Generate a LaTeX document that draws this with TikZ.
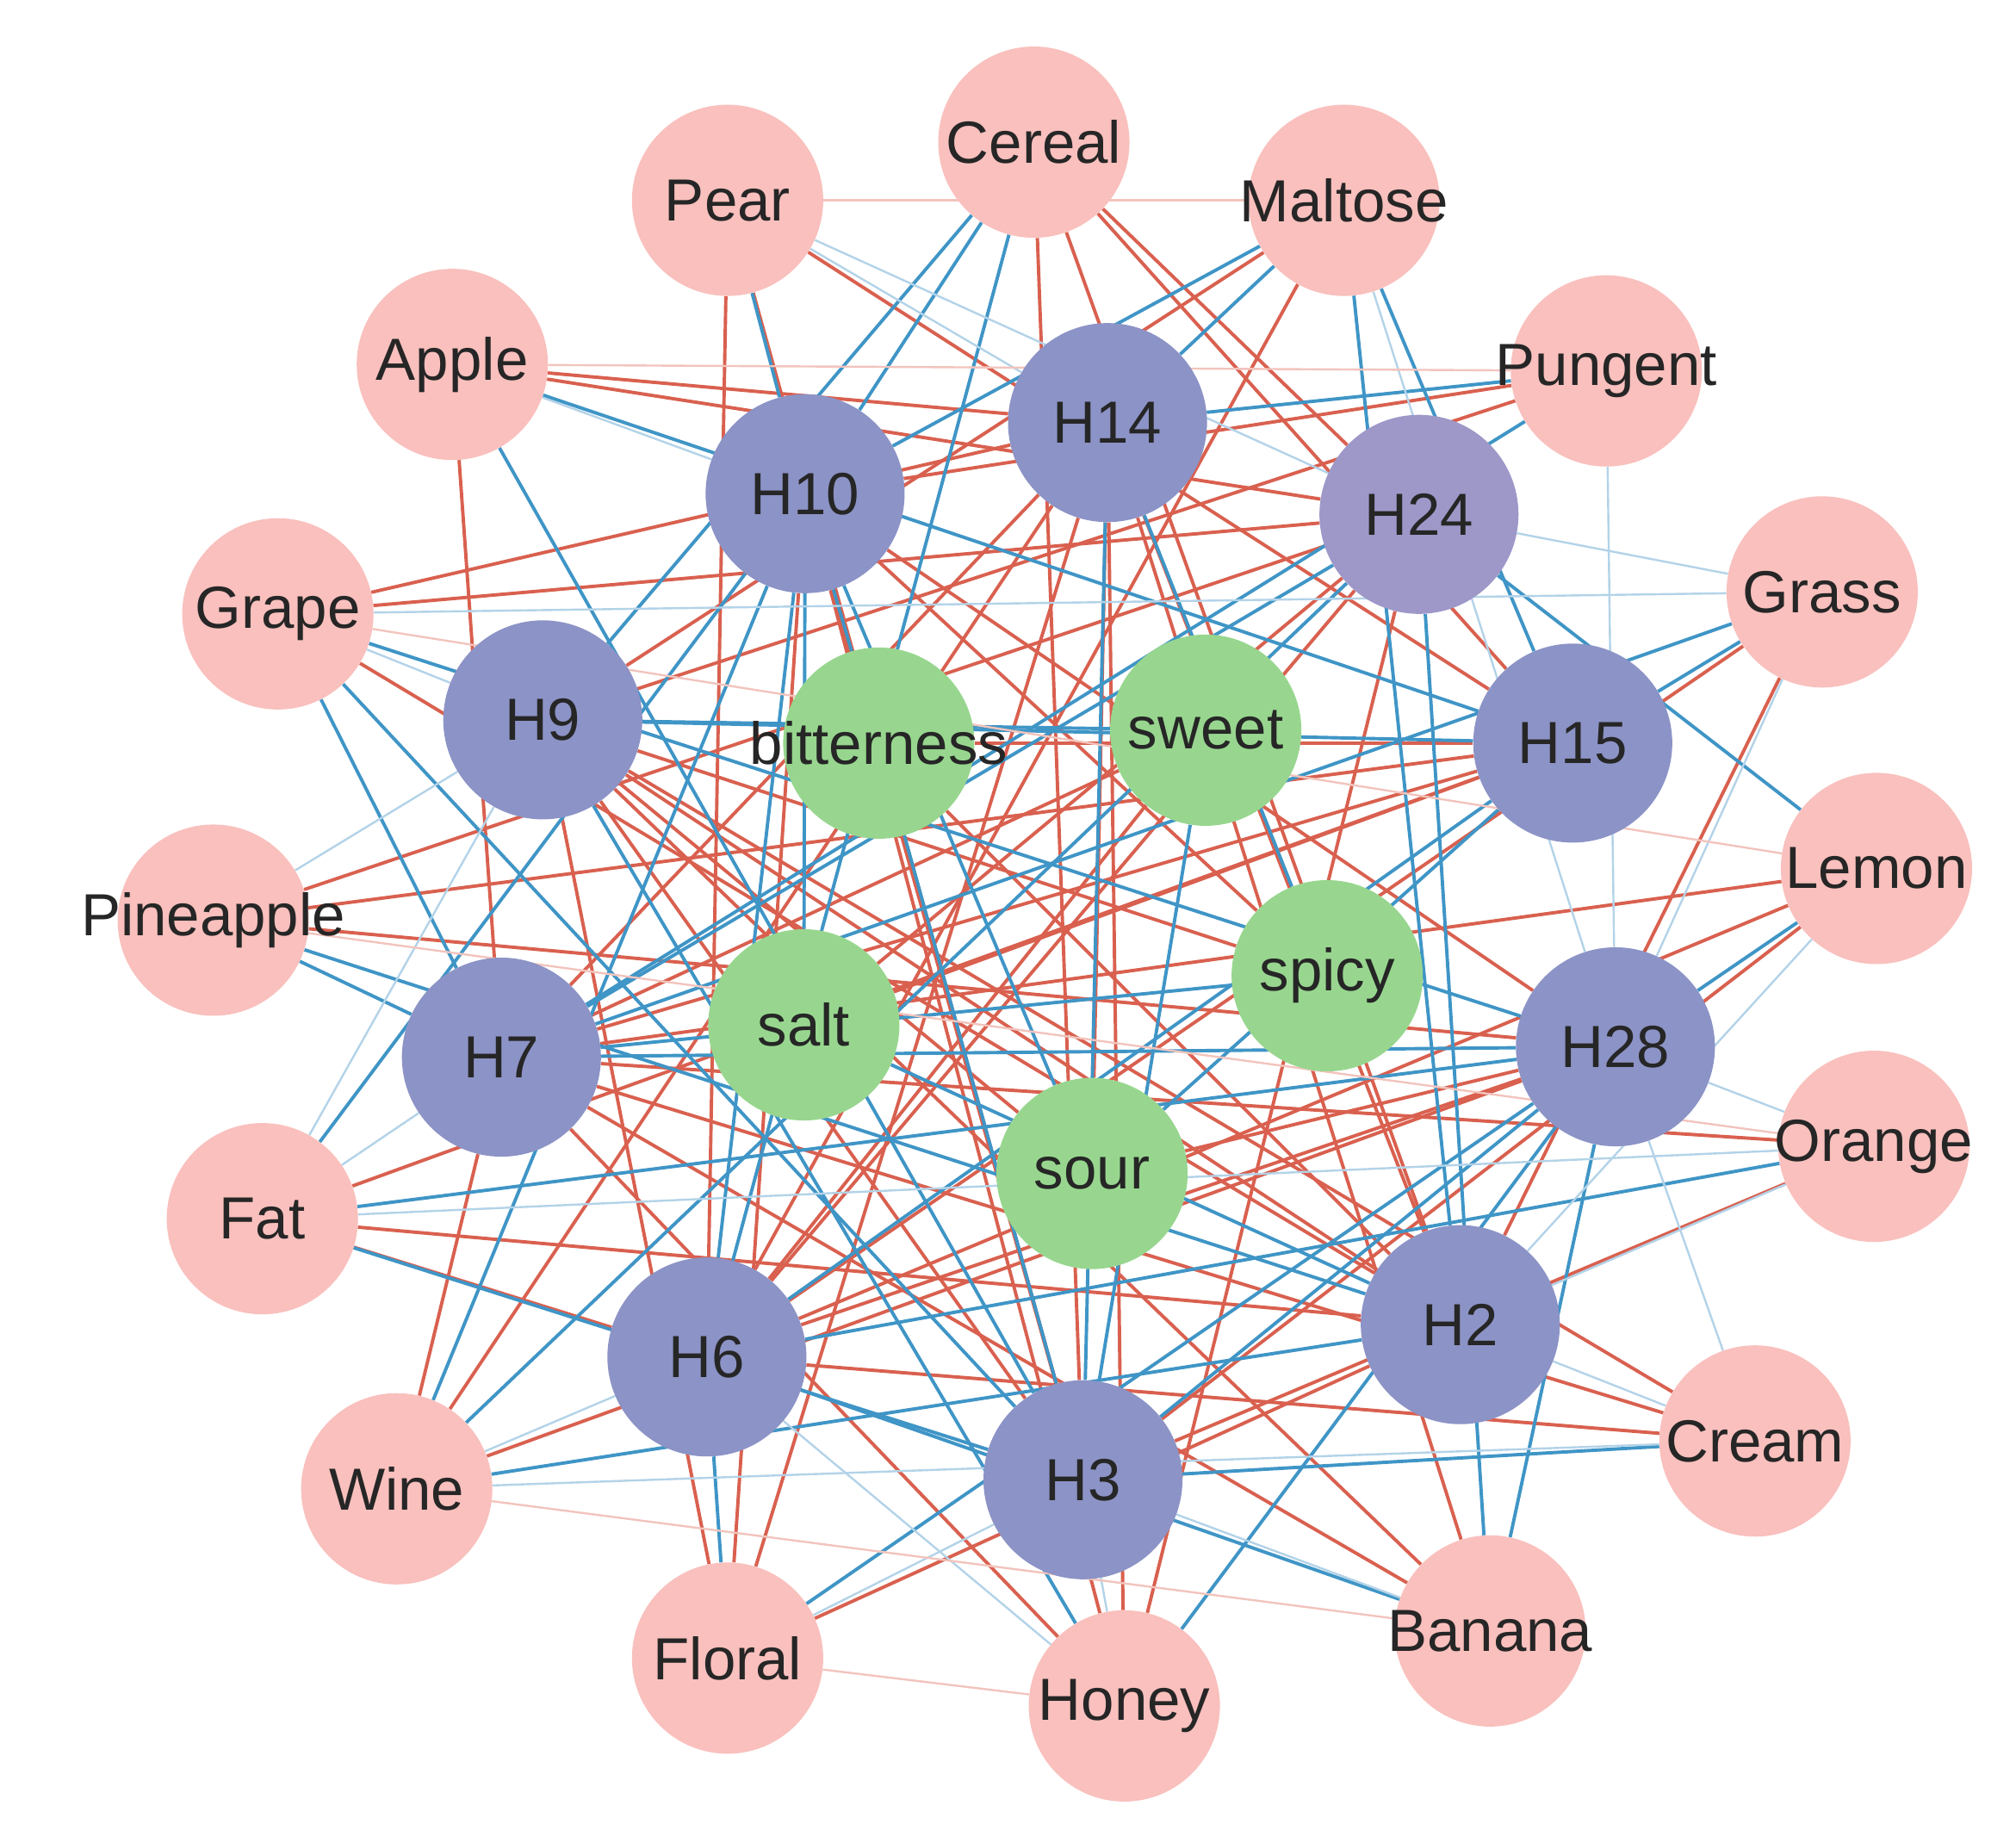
\documentclass[tikz,border=0pt]{standalone}
\usepackage{fontspec}
\setmainfont{Liberation Sans}
\usetikzlibrary{backgrounds}
\definecolor{pk}{HTML}{F9C0BD}
\definecolor{pu}{HTML}{8C93C6}
\definecolor{pu2}{HTML}{9D98C8}
\definecolor{gr}{HTML}{98D68F}
\definecolor{re}{HTML}{D9604F}
\definecolor{bl}{HTML}{3F95C6}
\definecolor{lb}{HTML}{B3D3E8}
\definecolor{lr}{HTML}{F2C4BD}
\newcommand{\zb}[1]{\makebox[0pt]{#1}}
\tikzset{
 base/.style={circle,minimum size=148pt,inner sep=0pt,font=\fontsize{46}{46}\selectfont,text=black!85},
 pinkn/.style={base,fill=pk},
 purn/.style={base,fill=pu,minimum size=154pt},
 grn/.style={base,fill=gr},
 re/.style={draw=re,line width=2.6pt},
 bl/.style={draw=bl,line width=2.6pt},
 lb/.style={draw=lb,line width=1.6pt},
 lr/.style={draw=lr,line width=1.6pt}
}
\begin{document}
\begin{tikzpicture}[x=1pt,y=-1pt]
\useasboundingbox (0,0) rectangle (1560,1411);
\node[pinkn] (Cereal) at (800,110) {\zb{Cereal}};
\node[pinkn] (Pear) at (563,155) {\zb{Pear}};
\node[pinkn] (Maltose) at (1040,155) {\zb{Maltose}};
\node[pinkn] (Apple) at (350,282) {\zb{Apple}};
\node[pinkn] (Pungent) at (1243,287) {\zb{Pungent}};
\node[pinkn] (Grape) at (215,475) {\zb{Grape}};
\node[pinkn] (Grass) at (1410,458) {\zb{Grass}};
\node[pinkn] (Pineapple) at (165,712) {\zb{Pineapple}};
\node[pinkn] (Lemon) at (1452,672) {\zb{Lemon}};
\node[pinkn] (Fat) at (203,943) {\zb{Fat}};
\node[pinkn] (Orange) at (1450,887) {\zb{Orange}};
\node[pinkn] (Wine) at (307,1152) {\zb{Wine}};
\node[pinkn] (Cream) at (1358,1115) {\zb{Cream}};
\node[pinkn] (Floral) at (563,1283) {\zb{Floral}};
\node[pinkn] (Banana) at (1153,1262) {\zb{Banana}};
\node[pinkn] (Honey) at (870,1320) {\zb{Honey}};
\node[purn] (H10) at (623,382) {\zb{H10}};
\node[purn] (H14) at (857,327) {\zb{H14}};
\node[purn,fill=pu2] (H24) at (1098,398) {\zb{H24}};
\node[purn] (H9) at (420,557) {\zb{H9}};
\node[purn] (H15) at (1217,575) {\zb{H15}};
\node[purn] (H7) at (388,818) {\zb{H7}};
\node[purn] (H28) at (1250,810) {\zb{H28}};
\node[purn] (H6) at (547,1050) {\zb{H6}};
\node[purn] (H2) at (1130,1025) {\zb{H2}};
\node[purn] (H3) at (838,1145) {\zb{H3}};
\node[grn] (bit) at (680,575) {\zb{bitterness}};
\node[grn] (sweet) at (933,565) {\zb{sweet}};
\node[grn] (spicy) at (1027,755) {\zb{spicy}};
\node[grn] (salt) at (622,793) {\zb{salt}};
\node[grn] (sour) at (845,908) {\zb{sour}};
\begin{scope}[on background layer]
\foreach \a/\b in {Cereal/H3,Cereal/H2,Cereal/H24,Cereal/H15,Maltose/H6,Maltose/H9,Apple/H14,Apple/H24,Pungent/H9,Pungent/H10,Grape/H24,Grape/H14,Grass/H2,Lemon/H6,Lemon/H3,Fat/H6,Fat/H2,Orange/H3,Wine/H7,Cream/H9,Cream/H6,Floral/H10,Floral/H9,Floral/H14,Banana/H7,Banana/H9,Honey/H10,Honey/H7,Pineapple/H28,Pineapple/H15,Pear/H6,Pear/H15,Pear/H3,Apple/H7,Grape/H2,Pineapple/H24,Wine/H14,Banana/H14,Cream/H7,Honey/H24,Fat/H15,H9/H2,H7/H14,H10/H28,H6/H24,H3/H9,H14/H2,H10/H3,H15/H7,H28/H6,bit/H2,bit/H15,sweet/H6,sweet/H7,spicy/H9,spicy/H10,salt/H15,salt/H24,sour/H14,sour/H9,sour/H28,Grass/H6,Lemon/H7,Orange/H7,Honey/H14,Floral/H2,Wine/H28}
 \draw[re] (\a) -- (\b);
\foreach \a/\b in {Cereal/H10,Cereal/H6,Maltose/H14,Maltose/H2,Maltose/H15,Maltose/H10,Apple/H3,Apple/H15,Pungent/H14,Pungent/H7,Grape/H3,Grape/H28,Grass/H15,Grass/H7,Lemon/H28,Lemon/H24,Fat/H10,Fat/H28,Orange/H6,Wine/H10,Wine/H2,Wine/H24,Cream/H3,Floral/H6,Floral/H28,Banana/H28,Banana/H6,Honey/H28,Honey/H9,Pineapple/H7,Pineapple/H2,Pear/H10,H9/H15,H7/H28,H10/H6,H14/H3,H24/H7,H15/H6,H28/H3,bit/H3,bit/H10,sweet/H3,sweet/H9,spicy/H7,spicy/H14,salt/H2,salt/H10,sour/H10,sour/H15,Grape/H7,Cereal/H9,Banana/H24,Fat/H3}
 \draw[bl] (\a) -- (\b);
\foreach \a/\b in {Pear/H24,Pear/H14,Maltose/H28,Pungent/H28,Grass/H28,Grass/H24,Lemon/H2,Orange/H28,Orange/H2,Cream/H28,Cream/H2,Fat/H7,Fat/H9,Pineapple/H9,Grape/H9,Apple/H10,Wine/H6,Floral/H3,Honey/H3,Honey/H6,Banana/H3,Orange/Fat,Cream/Wine,Grass/Grape}
 \draw[lb] (\a) -- (\b);
\foreach \a/\b in {Apple/Pungent,Pear/Maltose,Grape/Lemon,Pineapple/Orange,Wine/Banana,Floral/Honey}
 \draw[lr] (\a) -- (\b);
\end{scope}
\end{tikzpicture}
\end{document}
